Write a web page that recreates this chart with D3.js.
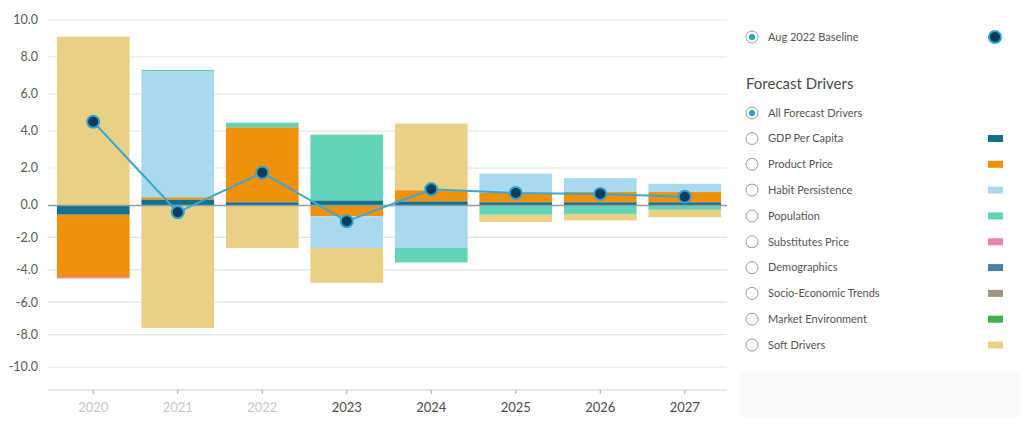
<!DOCTYPE html>
<html>
<head>
<meta charset="utf-8">
<script src="https://cdn.jsdelivr.net/npm/d3@7"></script>
<style>
  body { margin: 0; background: #fff; }
  svg { font-family: Lato, "Open Sans", sans-serif; }
</style>
</head>
<body>
<svg class="chart"></svg>
<script>
// Data
var years = ["2020", "2021", "2022", "2023", "2024", "2025", "2026", "2027"];
var forecastYears = ["2023", "2024", "2025", "2026", "2027"];
var baseline = [4.5, -0.45, 1.75, -1.0, 0.85, 0.65, 0.6, 0.45];

var drivers = ["GDP Per Capita", "Product Price", "Habit Persistence", "Population",
               "Substitutes Price", "Demographics", "Socio-Economic Trends",
               "Market Environment", "Soft Drivers"];
var driverColors = ["#13708f", "#f0910c", "#a9d9ef", "#60d3b8",
                    "#e683b2", "#4d7fa7", "#a39383", "#3cb44c", "#e9d085"];

var gdpPerCapita     = [-0.6, 0.3, 0.15, 0.25, 0.2, 0.15, 0.15, 0.15];
var productPrice     = [-3.85, 0.12, 4.05, -0.7, 0.6, 0.5, 0.55, 0.55];
var habitPersistence = [0, 6.8, 0, -1.95, -2.65, 1.05, 0.75, 0.45];
var population       = [0, 0.08, 0.25, 3.55, -0.9, -0.6, -0.55, -0.3];
var substitutesPrice = [-0.08, 0, 0, 0, 0, 0, 0, 0];
var demographics     = [0, 0, 0, 0, 0, 0, 0, 0];
var socioEconomic    = [0, 0, 0, 0, 0, 0, 0, 0];
var marketEnv        = [0, 0, 0, 0, 0, 0, 0, 0];
var softDrivers      = [9.1, -7.6, -2.65, -2.15, 3.6, -0.45, -0.4, -0.45];

var yTicks = [10, 8, 6, 4, 2, 0, -2, -4, -6, -8, -10];

var series = [gdpPerCapita, productPrice, habitPersistence, population,
              substitutesPrice, demographics, socioEconomic, marketEnv, softDrivers];

// Table for the stack
var table = years.map(function(y, i) {
    var row = { year: y };
    drivers.forEach(function(k, j) { row[k] = series[j][i]; });
    return row;
});

var w = 1023, h = 421;
var svg = d3.select(".chart").attr("width", w).attr("height", h);

var xScale = d3.scaleBand()
    .domain(years)
    .range([51, 727])
    .paddingInner(0.14)
    .paddingOuter(0.07);

// screenshot is squashed below zero, so piecewise
var yScale = d3.scaleLinear()
    .domain([-10, 0, 10])
    .range([367, 205, 20]);

// Gridlines
svg.append("g")
    .selectAll("line")
    .data(yTicks.filter(function(d) { return d !== 0; }))
    .join("line")
    .attr("x1", 48).attr("x2", 727)
    .attr("y1", function(d) { return yScale(d); })
    .attr("y2", function(d) { return yScale(d); })
    .attr("stroke", "#e4e4e4")
    .attr("stroke-width", 1.2);

// Y labels
svg.append("g")
    .selectAll("text")
    .data(yTicks)
    .join("text")
    .attr("x", 38)
    .attr("y", function(d) { return yScale(d); })
    .attr("dy", "0.35em")
    .attr("text-anchor", "end")
    .attr("font-size", "12.5px")
    .attr("fill", "#5a5a5a")
    .text(function(d) { return d.toFixed(1); });

// Stacked bars
var stack = d3.stack()
    .keys(drivers)
    .offset(d3.stackOffsetDiverging);
var stacked = stack(table);

svg.append("g")
    .selectAll("g")
    .data(stacked)
    .join("g")
    .attr("fill", function(d, i) { return driverColors[i]; })
    .selectAll("rect")
    .data(function(d) { return d; })
    .join("rect")
    .attr("x", function(d) { return xScale(d.data.year); })
    .attr("width", xScale.bandwidth())
    .attr("y", function(d) { return yScale(Math.max(d[0], d[1])); })
    .attr("height", function(d) { return Math.abs(yScale(d[0]) - yScale(d[1])); });

// Zero line
svg.append("line")
    .attr("x1", 48).attr("x2", 727)
    .attr("y1", yScale(0) + 0.5).attr("y2", yScale(0) + 0.5)
    .attr("stroke", "#8c9ea8")
    .attr("stroke-width", 1.3);

// X axis
var xAxis = d3.axisBottom(xScale).tickSize(4).tickPadding(9);
var gx = svg.append("g")
    .attr("transform", "translate(0,390)")
    .call(xAxis);
gx.select(".domain").attr("stroke", "#cfcfcf").attr("d", "M48,0H727");
gx.selectAll(".tick line").attr("stroke", "#aaa");
gx.selectAll(".tick text")
    .attr("font-size", "13px")
    .attr("font-family", "Lato, sans-serif")
    .attr("fill", function(d) { return forecastYears.indexOf(d) >= 0 ? "#4d4d4d" : "#c8c8c8"; });

// Baseline line + dots
var line = d3.line()
    .x(function(d, i) { return xScale(years[i]) + xScale.bandwidth() / 2; })
    .y(function(d) { return yScale(d); });

svg.append("path")
    .datum(baseline)
    .attr("fill", "none")
    .attr("stroke", "#3aa7d4")
    .attr("stroke-width", 2)
    .attr("d", line);

svg.append("g")
    .selectAll("circle")
    .data(baseline)
    .join("circle")
    .attr("cx", function(d, i) { return xScale(years[i]) + xScale.bandwidth() / 2; })
    .attr("cy", function(d) { return yScale(d); })
    .attr("r", 6)
    .attr("fill", "#0b3c5a")
    .attr("stroke", "#2ea3cf")
    .attr("stroke-width", 2);

// ==================== Legend ====================
var legend = svg.append("g");

function radio(g, y, selected) {
    g.append("circle")
        .attr("cx", 752).attr("cy", y).attr("r", 6)
        .attr("fill", "#fff")
        .attr("stroke", "#9a9a9a")
        .attr("stroke-width", 1);
    if (selected) {
        g.append("circle")
            .attr("cx", 752).attr("cy", y).attr("r", 3)
            .attr("fill", "#22a2c4");
    }
}

radio(legend, 37, true);
legend.append("text")
    .attr("x", 768).attr("y", 37).attr("dy", "0.35em")
    .attr("font-size", "11px").attr("fill", "#555")
    .text("Aug 2022 Baseline");
legend.append("circle")
    .attr("cx", 995).attr("cy", 37).attr("r", 6)
    .attr("fill", "#0b3c5a")
    .attr("stroke", "#2ea3cf")
    .attr("stroke-width", 2);

legend.append("text")
    .attr("x", 746).attr("y", 84).attr("dy", "0.35em")
    .attr("font-size", "15px").attr("fill", "#4a4a4a")
    .text("Forecast Drivers");

radio(legend, 113, true);
legend.append("text")
    .attr("x", 768).attr("y", 113).attr("dy", "0.35em")
    .attr("font-size", "11px").attr("fill", "#555")
    .text("All Forecast Drivers");

var itemY = d3.scaleLinear().domain([0, 8]).range([138.5, 345]);
drivers.forEach(function(name, i) {
    var y = itemY(i);
    radio(legend, y, false);
    legend.append("text")
        .attr("x", 768).attr("y", y).attr("dy", "0.35em")
        .attr("font-size", "11px").attr("fill", "#555")
        .text(name);
    legend.append("rect")
        .attr("x", 988).attr("y", y - 3.5)
        .attr("width", 15).attr("height", 7)
        .attr("fill", driverColors[i]);
});

// faint panel under the legend
svg.append("rect")
    .attr("x", 740).attr("y", 372)
    .attr("width", 280).attr("height", 46)
    .attr("rx", 4)
    .attr("fill", "#fafafa");
</script>
</body>
</html>
